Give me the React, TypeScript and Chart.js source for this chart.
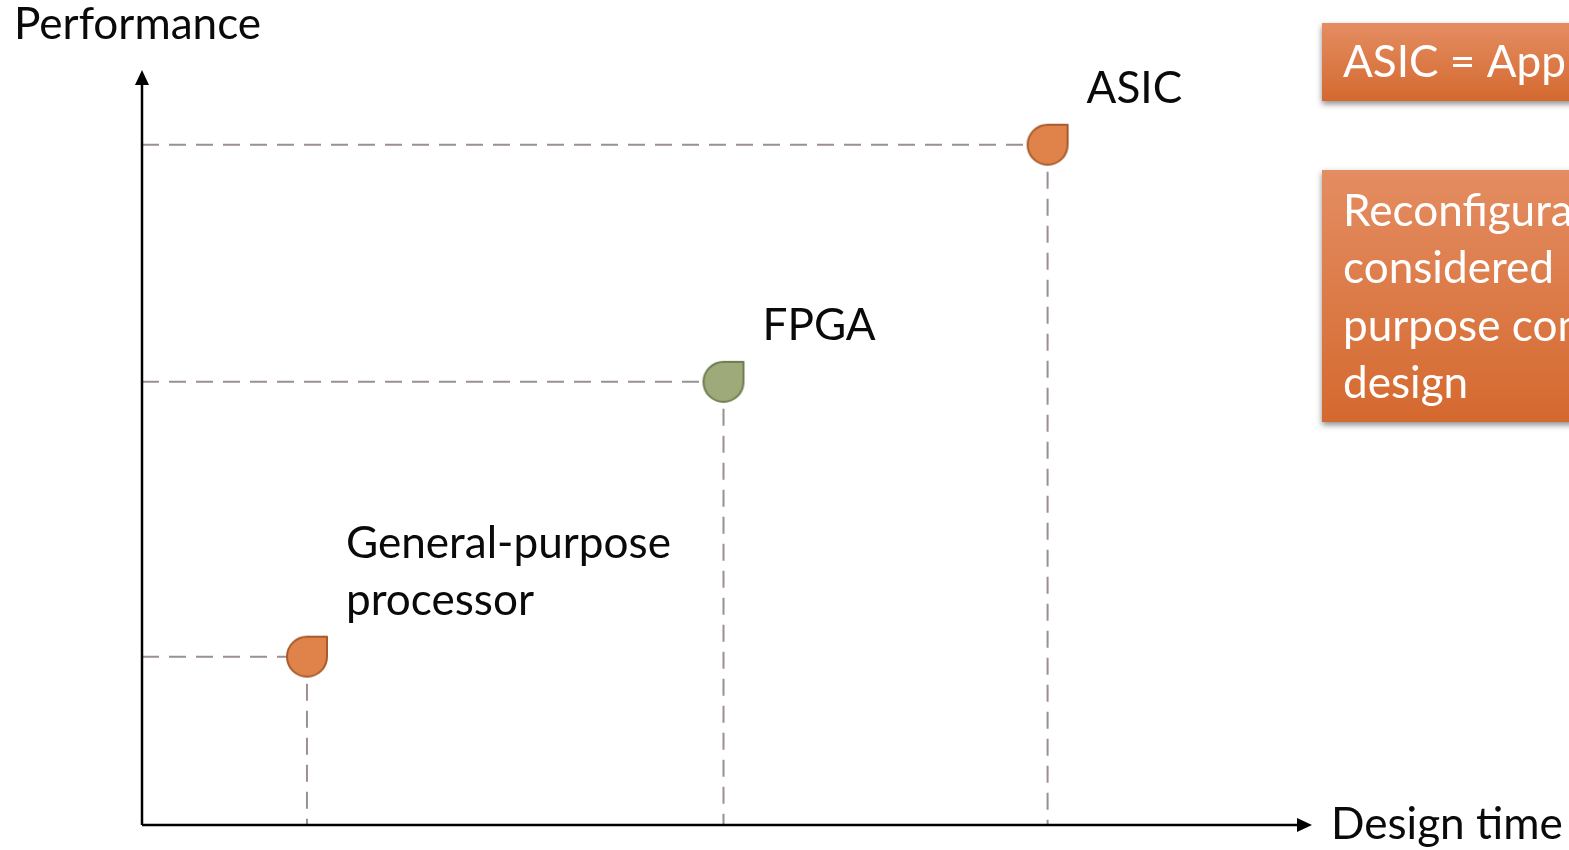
import React, { useEffect, useRef } from "react";
import { Chart, registerables } from "chart.js";

Chart.register(...registerables);

// ---- data ----
const categories = ["General-purpose processor", "FPGA", "ASIC"];
const labelLines = [["General-purpose", "processor"], ["FPGA"], ["ASIC"]];
const designTime = [14.1, 49.7, 77.4];
const performance = [22.3, 58.7, 90.1];
const xAxisTitle = "Design time";
const yAxisTitle = "Performance";
const noteAsic = ["ASIC = Application-Specific Integrated Circuit"];
const noteReconfig = [
  "Reconfigurable computing is",
  "considered   a compromise",
  "purpose computing and ASIC",
  "design",
];

// ---- styles ----
const FAMILY = "Lato";
const markerFill = ["#E0834A", "#9EAA7A", "#E0834A"];
const markerStroke = ["#A85A2C", "#6F7C50", "#A85A2C"];
const labelDx = [39, 39, 39];
const guideColor = "#9A9090";

function fitSize(text: string, target: number): number {
  const c = document.createElement("canvas").getContext("2d")!;
  c.font = `100px ${FAMILY}`;
  return (100 * target) / c.measureText(text).width;
}

function makeDrop(fill: string, stroke: string): HTMLCanvasElement {
  const r = 20;
  const pad = 2;
  const size = 2 * (r + pad);
  const cv = document.createElement("canvas");
  cv.width = size;
  cv.height = size;
  const c = cv.getContext("2d")!;
  const cx = size / 2;
  const cy = size / 2;
  c.beginPath();
  c.arc(cx, cy, r, 0, -Math.PI / 2, false);
  c.lineTo(cx + r, cy - r);
  c.closePath();
  c.fillStyle = fill;
  c.fill();
  c.lineWidth = 2;
  c.strokeStyle = stroke;
  c.lineJoin = "round";
  c.stroke();
  return cv;
}

export default function App() {
  const ref = useRef<HTMLCanvasElement | null>(null);

  useEffect(() => {
    const canvas = ref.current!;
    const fontSize = fitSize("General-purpose", 325);
    const font = `${fontSize}px ${FAMILY}`;
    const drops = categories.map((_, i) => makeDrop(markerFill[i], markerStroke[i]));

    const overlay = {
      id: "overlay",
      beforeDatasetsDraw(chart: any) {
        const ctx = chart.ctx;
        const xs = chart.scales.x;
        const ys = chart.scales.y;
        const x0 = xs.getPixelForValue(0);
        const y0 = ys.getPixelForValue(0);
        ctx.save();
        // guides
        ctx.strokeStyle = guideColor;
        ctx.lineWidth = 2;
        ctx.setLineDash([17, 10]);
        designTime.forEach((v, i) => {
          const px = xs.getPixelForValue(v);
          const py = ys.getPixelForValue(performance[i]);
          ctx.beginPath();
          ctx.moveTo(x0, py);
          ctx.lineTo(px, py);
          ctx.stroke();
          ctx.beginPath();
          ctx.moveTo(px, py);
          ctx.lineTo(px, y0);
          ctx.stroke();
        });
        // axes
        ctx.setLineDash([]);
        ctx.strokeStyle = "#000";
        ctx.fillStyle = "#000";
        ctx.lineWidth = 2.5;
        const right = xs.right;
        const top = ys.top;
        ctx.beginPath();
        ctx.moveTo(x0, y0);
        ctx.lineTo(right - 10, y0);
        ctx.moveTo(x0, y0);
        ctx.lineTo(x0, top + 10);
        ctx.stroke();
        ctx.beginPath();
        ctx.moveTo(right, y0);
        ctx.lineTo(right - 15, y0 - 7);
        ctx.lineTo(right - 15, y0 + 7);
        ctx.closePath();
        ctx.fill();
        ctx.beginPath();
        ctx.moveTo(x0, top);
        ctx.lineTo(x0 - 7, top + 15);
        ctx.lineTo(x0 + 7, top + 15);
        ctx.closePath();
        ctx.fill();
        ctx.restore();
      },
      afterDatasetsDraw(chart: any) {
        const ctx = chart.ctx;
        const xs = chart.scales.x;
        const ys = chart.scales.y;
        const y0 = ys.getPixelForValue(0);
        ctx.save();
        ctx.font = font;
        ctx.textBaseline = "alphabetic";
        ctx.textAlign = "left";
        ctx.fillStyle = "#0a0a0a";
        // point labels
        labelLines.forEach((lines, i) => {
          const px = xs.getPixelForValue(designTime[i]);
          const py = ys.getPixelForValue(performance[i]);
          const n = lines.length;
          lines.forEach((t, k) => {
            ctx.fillText(t, px + labelDx[i], py - 42 - (n - 1 - k) * 57);
          });
        });
        // axis titles
        ctx.fillText(yAxisTitle, 14, ys.top - 31);
        ctx.fillText(xAxisTitle, xs.right + 19, y0 + 14);

        // note boxes
        const boxes = [
          { x: 1322, y: 23, h: 78, lines: noteAsic, base: 77 },
          { x: 1322, y: 170, h: 252, lines: noteReconfig, base: 226 },
        ];
        boxes.forEach((b) => {
          const g = ctx.createLinearGradient(0, b.y, 0, b.y + b.h);
          g.addColorStop(0, "#E48D62");
          g.addColorStop(1, "#D4692F");
          ctx.save();
          ctx.shadowColor = "rgba(0,0,0,0.45)";
          ctx.shadowBlur = 6;
          ctx.shadowOffsetX = 0;
          ctx.shadowOffsetY = 3;
          ctx.fillStyle = g;
          ctx.fillRect(b.x, b.y, 600, b.h);
          ctx.restore();
          ctx.fillStyle = "#FFFFFF";
          b.lines.forEach((t, k) => {
            ctx.fillText(t, b.x + 21, b.base + k * 57.3);
          });
        });
        ctx.restore();
      },
    };

    const chart = new Chart(canvas, {
      type: "scatter",
      data: {
        labels: categories,
        datasets: [
          {
            label: "Performance vs design time",
            data: designTime.map((x, i) => ({ x, y: performance[i] })),
            pointStyle: drops as any,
            pointRadius: 20,
            pointHoverRadius: 20,
            backgroundColor: markerFill,
            borderColor: markerStroke,
          },
        ],
      },
      options: {
        animation: false,
        responsive: false,
        devicePixelRatio: 1,
        layout: { padding: { left: 142, right: 257, top: 70, bottom: 25 } },
        scales: {
          x: { type: "linear", min: 0, max: 100, display: false },
          y: { type: "linear", min: 0, max: 100, display: false },
        },
        plugins: {
          legend: { display: false },
          tooltip: { enabled: false },
        },
        events: [],
      },
      plugins: [overlay],
    });
    return () => chart.destroy();
  }, []);

  return (
    <div
      style={{
        position: "fixed",
        left: 0,
        top: 0,
        width: 1569,
        height: 850,
        overflow: "hidden",
        background: "#fff",
      }}
    >
      <canvas ref={ref} width={1569} height={850} style={{ display: "block", width: 1569, height: 850 }} />
    </div>
  );
}
